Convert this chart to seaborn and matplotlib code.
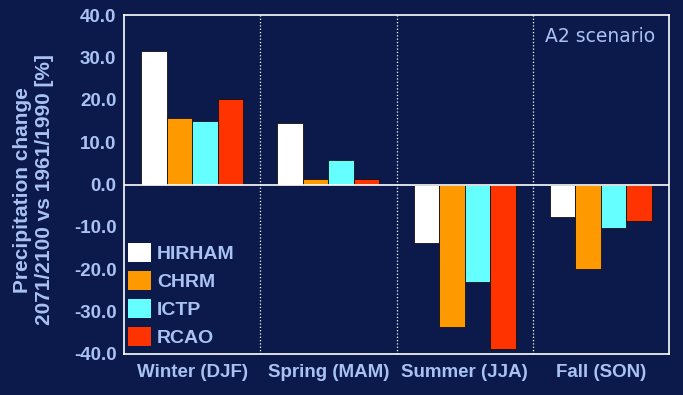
import matplotlib
matplotlib.use("Agg")
import matplotlib.pyplot as plt
import seaborn as sns
import pandas as pd
from matplotlib.ticker import FormatStrFormatter

seasons = ["Winter (DJF)", "Spring (MAM)", "Summer (JJA)", "Fall (SON)"]
models = ["HIRHAM", "CHRM", "ICTP", "RCAO"]
hirham = [31.6, 14.4, -13.8, -7.6]
chrm = [15.6, 1.2, -33.6, -19.9]
ictp = [14.9, 5.9, -23.0, -10.2]
rcao = [20.1, 1.2, -38.8, -8.7]
colors = ["#ffffff", "#ff9900", "#66ffff", "#ff3300"]

rows = []
for m, vals in zip(models, [hirham, chrm, ictp, rcao]):
    for s, v in zip(seasons, vals):
        rows.append({"season": s, "model": m, "value": v})
df = pd.DataFrame(rows)

bg = "#0b1a4b"
fg = "#a9c2f2"

sns.set_style("dark")
plt.rcParams["font.family"] = ["Liberation Sans", "DejaVu Sans"]

fig = plt.figure(figsize=(6.83, 3.95), dpi=100, facecolor=bg)
ax = fig.add_axes([0.1816, 0.1038, 0.7979, 0.8582])
ax.set_facecolor(bg)

sns.barplot(data=df, x="season", y="value", hue="model", order=seasons,
            hue_order=models, palette=colors, width=0.75, saturation=1,
            edgecolor="#111111", linewidth=0.6, ax=ax)

ax.set_ylim(-40, 40)
ax.set_xlim(-0.5, 3.5)
ax.set_yticks(range(-40, 41, 10))
ax.yaxis.set_major_formatter(FormatStrFormatter("%.1f"))
ax.axhline(0, color="white", lw=1.2, zorder=3)
for xv in [0.5, 1.5, 2.5]:
    ax.axvline(xv, color="white", lw=0.9, ls=":", zorder=3)

for sp in ax.spines.values():
    sp.set_visible(True)
    sp.set_color("white")
    sp.set_linewidth(1.2)
ax.grid(False)
ax.tick_params(axis="y", colors="white", labelcolor=fg, length=4.5, width=1,
               labelsize=13.5, pad=1)
ax.tick_params(axis="x", length=0, labelcolor=fg, labelsize=13.5, pad=7)
for lbl in ax.get_xticklabels() + ax.get_yticklabels():
    lbl.set_fontweight("bold")

ax.set_xlabel("")
ax.set_ylabel("")
fig.text(33.5 / 683, 0.519, "Precipitation change\n2071/2100 vs 1961/1990 [%]",
         rotation=90, ha="center", va="center", color=fg, fontsize=15,
         fontweight="bold", linespacing=1.25, multialignment="center")

ax.text(0.974, 0.936, "A2 scenario", transform=ax.transAxes, ha="right",
        va="center", color=fg, fontsize=13.5, family=["DejaVu Sans"])

leg = ax.legend(loc="lower left", bbox_to_anchor=(0.007, 0.02), frameon=False,
                borderaxespad=0, borderpad=0,
                handlelength=1.2, handleheight=1.15, handletextpad=0.3,
                labelspacing=0.4, fontsize=14)
for t in leg.get_texts():
    t.set_color(fg)
    t.set_fontweight("bold")
for h in leg.legend_handles:
    h.set_edgecolor("none")

fig.savefig("out.png", dpi=100, facecolor=bg)
